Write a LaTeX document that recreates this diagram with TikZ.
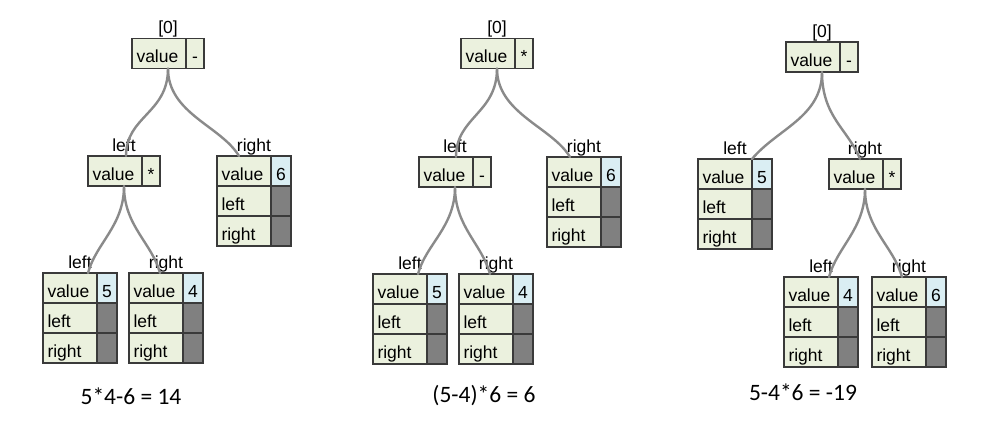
\documentclass[tikz,border=0pt]{standalone}
\usepackage{fontspec}
\setmainfont{Liberation Sans}
\newfontfamily\formfont{Carlito}
\usetikzlibrary{calc}
\definecolor{cellgreen}{HTML}{EBF1DE}
\definecolor{cellblue}{HTML}{DAEEF3}
\definecolor{cellgray}{HTML}{808080}
\definecolor{edgegray}{HTML}{3A3A3A}
\definecolor{linkgray}{HTML}{8A8A8A}
\tikzset{
  cell/.style={draw=edgegray, line width=1.4pt, inner xsep=0pt, inner ysep=0pt, outer sep=0pt,
    minimum height=30pt, anchor=north west, text height=20pt, text depth=1pt,
    font=\fontsize{17.5}{19}\selectfont},
  labcell/.style={cell, fill=cellgreen, minimum width=54pt, inner xsep=4.5pt, text width=45pt, align=left},
  opcell/.style={cell, fill=cellgreen, minimum width=18pt, align=center},
  numcell/.style={cell, fill=cellblue, minimum width=20pt, align=center},
  nilcell/.style={cell, fill=cellgray, minimum width=20pt},
  toplab/.style={anchor=base, inner sep=0pt, font=\fontsize{17.5}{19}\selectfont},
  formula/.style={anchor=base, inner sep=0pt, font=\formfont\fontsize{23.5}{26}\selectfont},
  link/.style={draw=linkgray, line width=2.4pt, line cap=round}
}
\newcommand{\opnode}[5]{% name, x, y, op, top label
  \node[labcell] (#1) at (#2,#3) {value};
  \node[opcell] (#1-v) at (#1.north east) {#4};
  \coordinate (#1-top) at ($(#1.north west)!0.5!(#1-v.north east)$);
  \coordinate (#1-bot) at ($(#1.south west)!0.5!(#1-v.south east)$);
  \node[toplab] (#1-lab) at ($(#1-top)+(0,-4.5)$) {#5};
}
\newcommand{\numnode}[5]{% name, x, y, value, top label
  \node[labcell] (#1) at (#2,#3) {value};
  \node[numcell] (#1-v) at (#1.north east) {#4};
  \node[labcell] (#1-l) at (#1.south west) {left};
  \node[nilcell] (#1-lv) at (#1-l.north east) {};
  \node[labcell] (#1-r) at (#1-l.south west) {right};
  \node[nilcell] (#1-rv) at (#1-r.north east) {};
  \coordinate (#1-top) at ($(#1.north west)!0.5!(#1-v.north east)$);
  \node[toplab] (#1-lab) at ($(#1-top)+(0,-4.5)$) {#5};
}
\begin{document}
\begin{tikzpicture}[x=1pt,y=-1pt]
\fill[white] (0,0) rectangle (993,436);
\useasboundingbox (0,0) rectangle (993,436);

% ---------- tree 1 ----------
\opnode{aR}{132}{38.5}{-}{[0]}
\opnode{aL}{88}{156}{*}{left}
\numnode{aRR}{217}{156}{6}{right}
\numnode{aLL}{43}{273}{5}{left}
\numnode{aLR}{129}{273}{4}{right}
\draw[link] (aR-bot) .. controls +(0,45) and +(0,-40) .. ([xshift=38pt]aL.north west);
\draw[link] (aR-bot) .. controls +(0,45) and +(-18,-30) .. ([xshift=22pt]aRR.north west);
\draw[link] (aL-bot) .. controls +(0,40) and +(8,-30) .. ([xshift=45pt]aLL.north west);
\draw[link] (aL-bot) .. controls +(0,40) and +(-8,-30) .. ([xshift=31pt]aLR.north west);
\node[formula] (f1) at (131,404) {5*4-6 = 14};

% ---------- tree 2 ----------
\opnode{bR}{461}{38.5}{*}{[0]}
\opnode{bL}{419}{157}{-}{left}
\numnode{bRR}{547}{157}{6}{right}
\numnode{bLL}{373}{274}{5}{left}
\numnode{bLR}{459}{274}{4}{right}
\draw[link] (bR-bot) .. controls +(0,45) and +(0,-40) .. ([xshift=37pt]bL.north west);
\draw[link] (bR-bot) .. controls +(0,45) and +(-18,-30) .. ([xshift=23pt]bRR.north west);
\draw[link] (bL-bot) .. controls +(0,40) and +(8,-30) .. ([xshift=45pt]bLL.north west);
\draw[link] (bL-bot) .. controls +(0,40) and +(-8,-30) .. ([xshift=31pt]bLR.north west);
\node[formula] (f2) at (484,402) {(5-4)*6 = 6};

% ---------- tree 3 ----------
\opnode{cR}{786}{42}{-}{[0]}
\numnode{cL}{698}{159}{5}{left}
\opnode{cRt}{829}{159}{*}{right}
\numnode{cRL}{784}{277}{4}{left}
\numnode{cRR}{872}{277}{6}{right}
\draw[link] (cR-bot) .. controls +(0,45) and +(25,-30) .. ([xshift=54pt]cL.north west);
\draw[link] (cR-bot) .. controls +(0,45) and +(-12,-30) .. ([xshift=31pt]cRt.north west);
\draw[link] (cRt-bot) .. controls +(0,40) and +(8,-30) .. ([xshift=45pt]cRL.north west);
\draw[link] (cRt-bot) .. controls +(0,40) and +(-8,-30) .. ([xshift=30pt]cRR.north west);
\node[formula] (f3) at (803,400) {5-4*6 = -19};
\end{tikzpicture}
\end{document}
